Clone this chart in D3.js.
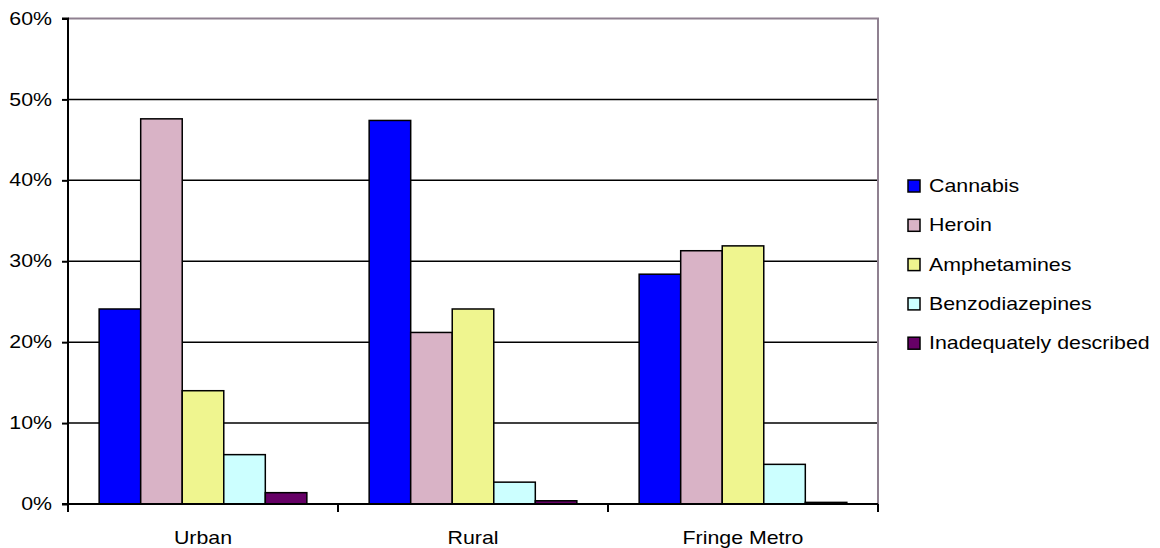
<!DOCTYPE html>
<html>
<head>
<meta charset="utf-8">
<script src="https://cdn.jsdelivr.net/npm/d3@7"></script>
<style>
  html, body { margin: 0; padding: 0; background: #fff; }
  svg { display: block; font-family: "Liberation Sans", Arial, sans-serif; }
</style>
</head>
<body>
<svg id="chart" width="1160" height="548"></svg>
<script>
// Regions along the x axis
const categories = ["Urban", "Rural", "Fringe Metro"];
// Drug types, one bar each per region
const seriesNames = ["Cannabis", "Heroin", "Amphetamines", "Benzodiazepines", "Inadequately described"];
const seriesColors = ["#0000ff", "#d9b3c6", "#eff58f", "#ccffff", "#660066"];
// Share of each region (%), indexed by series then region
const cannabis = [24.1, 47.4, 28.4];
const heroin = [47.6, 21.2, 31.3];
const amphetamines = [14.0, 24.1, 31.9];
const benzodiazepines = [6.1, 2.7, 4.9];
const inadequate = [1.4, 0.4, 0.2];
const yTicks = [0, 10, 20, 30, 40, 50, 60];

const seriesValues = [cannabis, heroin, amphetamines, benzodiazepines, inadequate];

const FONT_SIZE = 17.5;
const STRETCH = 1.22; // wide-set lettering

const svg = d3.select("#chart");
const plot = { left: 68, right: 878, top: 18.5, bottom: 504 };

const x0 = d3.scaleBand()
  .domain(categories)
  .range([plot.left, plot.right])
  .paddingInner(0)
  .paddingOuter(0);

// Excel-style gap width of 150% between clusters
const barW = x0.bandwidth() / (seriesNames.length + 1.5);
const x1 = d3.scaleBand()
  .domain(seriesNames)
  .range([barW * 0.75, barW * 0.75 + barW * seriesNames.length])
  .padding(0);

const y = d3.scaleLinear().domain([0, 60]).range([plot.bottom, plot.top]);

// Draws a horizontally stretched label anchored at (x, y)
function label(sel, x, yPos, txt, anchor) {
  return sel.append("text")
    .attr("transform", `translate(${x},${yPos}) scale(${STRETCH},1)`)
    .attr("text-anchor", anchor)
    .attr("dy", "0.35em")
    .attr("font-size", FONT_SIZE)
    .attr("fill", "#000")
    .text(txt);
}

// Horizontal gridlines
svg.append("g")
  .selectAll("line")
  .data(yTicks.filter(t => t > 0 && t < 60))
  .join("line")
  .attr("x1", plot.left).attr("x2", plot.right)
  .attr("y1", d => y(d)).attr("y2", d => y(d))
  .attr("stroke", "#000").attr("stroke-width", 1.5);

// Plot area border (top and right)
svg.append("path")
  .attr("d", `M${plot.left},${y(60)}H${plot.right}V${plot.bottom}`)
  .attr("fill", "none")
  .attr("stroke", "#8f8090")
  .attr("stroke-width", 2);

// Bars
const groups = svg.append("g")
  .selectAll("g")
  .data(categories)
  .join("g")
  .attr("transform", d => `translate(${x0(d)},0)`);

groups.selectAll("rect")
  .data((c, ci) => seriesNames.map((s, si) => ({ s, si, v: seriesValues[si][ci] })))
  .join("rect")
  .attr("x", d => x1(d.s))
  .attr("width", x1.bandwidth())
  .attr("y", d => y(d.v))
  .attr("height", d => y(0) - y(d.v))
  .attr("fill", d => seriesColors[d.si])
  .attr("stroke", "#000")
  .attr("stroke-width", 1.5);

// Y axis
const yAxis = d3.axisLeft(y)
  .tickValues(yTicks)
  .tickFormat(() => "")
  .tickSize(6);
const yg = svg.append("g")
  .attr("transform", `translate(${plot.left},0)`)
  .call(yAxis);
yg.select(".domain").attr("stroke", "#000").attr("stroke-width", 2)
  .attr("d", `M-6,${plot.top}H0V${plot.bottom}H-6`);
yg.selectAll(".tick line").attr("stroke", "#000").attr("stroke-width", 2);
yTicks.forEach(t => label(svg, 52, y(t), t + "%", "end"));

// X axis with ticks at cluster boundaries
const xg = svg.append("g").attr("transform", `translate(0,${plot.bottom})`);
xg.append("line")
  .attr("x1", plot.left).attr("x2", plot.right)
  .attr("stroke", "#000").attr("stroke-width", 2);
const boundaries = categories.map(c => x0(c)).concat([plot.right]);
xg.selectAll("line.tk")
  .data(boundaries)
  .join("line")
  .attr("class", "tk")
  .attr("x1", d => d).attr("x2", d => d)
  .attr("y1", 0).attr("y2", 8)
  .attr("stroke", "#000").attr("stroke-width", 2);
categories.forEach(c => label(xg, x0(c) + x0.bandwidth() / 2, 34, c, "middle"));

// Legend
const legend = svg.append("g").attr("transform", "translate(908,186)");
seriesNames.forEach((name, i) => {
  const item = legend.append("g").attr("transform", `translate(0,${i * 39.3})`);
  item.append("rect")
    .attr("x", 0).attr("y", -6)
    .attr("width", 12).attr("height", 12)
    .attr("fill", seriesColors[i])
    .attr("stroke", "#000")
    .attr("stroke-width", 1.5);
  label(item, 21, 0, name, "start");
});
</script>
</body>
</html>
